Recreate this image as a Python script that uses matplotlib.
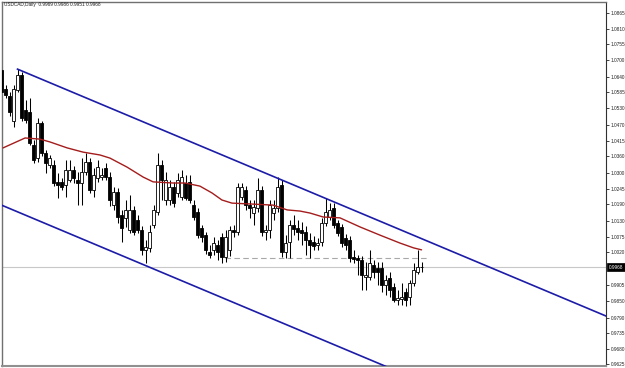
import matplotlib
matplotlib.use("Agg")
import matplotlib.pyplot as plt
import matplotlib.transforms as mtransforms
from matplotlib.patches import Rectangle

plt.rcParams['font.family'] = ['Liberation Sans', 'DejaVu Sans']

# ---- data (USDCAD daily) ----
opens = [1.0664,1.0597,1.0572,1.0484,1.0593,1.0646,1.0523,1.0516,1.0399,1.0353,
 1.0477,1.0371,1.0329,1.0329,1.0269,1.0269,1.0258,1.0276,1.0311,1.0276,
 1.0265,1.0304,1.0339,1.0240,1.0283,1.0286,1.0318,1.0286,1.0187,1.0233,
 1.0152,1.0142,1.0099,1.0170,1.0134,1.0099,1.0029,1.0036,1.0117,1.0163,
 1.0329,1.0205,1.0205,1.0251,1.0230,1.0216,1.0265,1.0269,1.0187,1.0163,
 1.0106,1.0081,1.0021,1.0029,1.0046,1.0074,1.0004,1.0029,1.0099,1.0092,
 1.0216,1.0240,1.0187,1.0159,1.0177,1.0240,1.0092,1.0099,1.0159,1.0177,
 1.0258,1.0021,1.0057,1.0117,1.0106,1.0099,1.0092,1.0064,1.0057,1.0046,
 1.0057,1.0124,1.0145,1.0177,1.0124,1.0110,1.0071,1.0064,1.0004,1.0000,
 0.9993,0.9933,0.9933,0.9976,0.9965,0.9965,0.9905,0.9930,0.9898,0.9852,
 0.9856,0.9880,0.9863,0.9912,0.9951,0.9969]

highs = [1.0678,1.0611,1.0586,1.0611,1.0667,1.0657,1.0558,1.0565,1.0417,1.0494,
 1.0484,1.0382,1.0364,1.0346,1.0300,1.0283,1.0346,1.0346,1.0325,1.0304,
 1.0353,1.0371,1.0353,1.0318,1.0346,1.0318,1.0336,1.0304,1.0251,1.0247,
 1.0170,1.0205,1.0223,1.0184,1.0152,1.0113,1.0064,1.0117,1.0187,1.0371,
 1.0346,1.0304,1.0276,1.0269,1.0300,1.0311,1.0293,1.0293,1.0205,1.0177,
 1.0117,1.0092,1.0046,1.0074,1.0064,1.0089,1.0099,1.0113,1.0117,1.0265,
 1.0265,1.0254,1.0205,1.0205,1.0283,1.0254,1.0117,1.0205,1.0205,1.0286,
 1.0276,1.0081,1.0134,1.0152,1.0134,1.0127,1.0113,1.0089,1.0078,1.0071,
 1.0142,1.0212,1.0194,1.0194,1.0134,1.0120,1.0085,1.0078,1.0029,1.0011,
 1.0007,0.9986,1.0029,0.9993,0.9986,0.9986,0.9940,0.9951,0.9912,0.9887,
 0.9912,0.9894,0.9923,0.9983,1.0029,0.9986]

lows = [1.0576,1.0565,1.0502,1.0463,1.0586,1.0484,1.0477,1.0399,1.0336,1.0339,
 1.0360,1.0300,1.0318,1.0254,1.0212,1.0240,1.0216,1.0269,1.0265,1.0187,
 1.0187,1.0293,1.0230,1.0216,1.0269,1.0276,1.0276,1.0184,1.0170,1.0124,
 1.0057,1.0110,1.0089,1.0081,1.0089,1.0011,0.9983,1.0021,1.0106,1.0152,
 1.0205,1.0187,1.0187,1.0180,1.0216,1.0205,1.0205,1.0194,1.0134,1.0071,
 1.0057,1.0014,1.0000,1.0011,0.9993,0.9983,0.9986,1.0007,1.0074,1.0081,
 1.0205,1.0170,1.0142,1.0117,1.0163,1.0078,1.0064,1.0071,1.0134,1.0163,
 1.0004,1.0000,1.0000,1.0081,1.0064,1.0046,1.0011,1.0000,1.0029,1.0029,
 1.0043,1.0113,1.0134,1.0106,1.0078,1.0039,1.0029,0.9986,0.9983,0.9940,
 0.9887,0.9887,0.9923,0.9930,0.9905,0.9880,0.9870,0.9863,0.9845,0.9834,
 0.9834,0.9831,0.9834,0.9901,0.9944,0.9951]

closes = [1.0586,1.0576,1.0516,1.0597,1.0646,1.0494,1.0487,1.0406,1.0346,1.0477,
 1.0371,1.0336,1.0353,1.0265,1.0258,1.0251,1.0311,1.0311,1.0283,1.0265,
 1.0304,1.0339,1.0240,1.0293,1.0321,1.0293,1.0286,1.0205,1.0233,1.0145,
 1.0106,1.0170,1.0170,1.0092,1.0099,1.0029,1.0039,1.0092,1.0170,1.0329,
 1.0276,1.0276,1.0251,1.0194,1.0276,1.0286,1.0212,1.0205,1.0145,1.0081,
 1.0074,1.0029,1.0011,1.0053,1.0021,1.0004,1.0074,1.0099,1.0092,1.0251,
 1.0251,1.0187,1.0177,1.0180,1.0240,1.0092,1.0099,1.0187,1.0177,1.0251,
 1.0021,1.0053,1.0117,1.0103,1.0092,1.0089,1.0064,1.0046,1.0043,1.0053,
 1.0124,1.0163,1.0170,1.0117,1.0089,1.0053,1.0046,1.0000,0.9997,0.9993,
 0.9940,0.9940,0.9983,0.9951,0.9951,0.9905,0.9923,0.9887,0.9852,0.9859,
 0.9863,0.9852,0.9912,0.9958,0.9968,0.9968]

# moving average : bar index, value
ma_idx = [0.4, 5.9, 9.6, 12.1, 16.4, 20.4, 24.6, 27.1, 31.4, 35.4, 37.9, 42.9,
          45.9, 49.6, 52.6, 55.1, 57.6, 62.1, 67.9, 71.4, 74.6, 77.1, 80.4,
          84.6, 89.6, 94.6, 99.6, 103, 105]
ma_val = [1.0389, 1.0424, 1.0420, 1.0410, 1.0389, 1.0374, 1.0364, 1.0353,
          1.0321, 1.0286, 1.0269, 1.0265, 1.0265, 1.0254, 1.0230, 1.0205,
          1.0194, 1.0191, 1.0187, 1.0170, 1.0166, 1.0159, 1.0145, 1.0142,
          1.0110, 1.0081, 1.0053, 1.0036, 1.0029]

# channel lines: (bar index, price) endpoints
upper_channel = [(4, 1.0667), (151, 0.9796)]
lower_channel = [(0, 1.0187), (96, 0.9618)]

parity_level = 1.0000
parity_span = (55.9, 106.4)
last_price = 0.9968
title = "USDCAD,Daily  0.9969 0.9986 0.9951 0.9968"

price_labels = ["1.0865", "1.0810", "1.0755", "1.0700", "1.0640", "1.0585",
                "1.0530", "1.0470", "1.0415", "1.0360", "1.0300", "1.0245",
                "1.0190", "1.0130", "1.0075", "1.0020", "0.9905", "0.9850",
                "0.9790", "0.9735", "0.9680", "0.9625"]

# ---- figure ----
W, H = 625, 368
fig = plt.figure(figsize=(W / 100, H / 100), dpi=100)
ax = fig.add_axes([2 / W, 2 / H, 604 / W, 364 / H])
ax.set_xlim(0.125, 151.1)
ax.set_ylim(0.9619, 1.0904)

# grey last price line and dashed parity line
ax.axhline(last_price, color='#c8c8c8', lw=0.8, zorder=1)
ax.hlines(parity_level, parity_span[0], parity_span[1], color='#a8a8a8',
          lw=0.8, linestyles=(0, (5, 3)), zorder=1)

# candles
bw = 0.75
for i, (o, h, l, c) in enumerate(zip(opens, highs, lows, closes)):
    ax.vlines(i, l, h, color='black', lw=0.75, zorder=3)
    bottom = min(o, c)
    height = max(abs(c - o), 0.00005)
    fc = 'white' if c >= o else 'black'
    ax.add_patch(Rectangle((i - bw / 2, bottom), bw, height, facecolor=fc,
                           edgecolor='black', lw=0.6, zorder=4))

# moving average
ax.plot(ma_idx, ma_val, color='#a41c1c', lw=1.0, zorder=5,
        solid_capstyle='round', solid_joinstyle='round')

# channel
for line in (upper_channel, lower_channel):
    xs = [p[0] for p in line]
    ys = [p[1] for p in line]
    ax.plot(xs, ys, color='#1c1ca8', lw=1.2, zorder=6)

# axis ticks on right
ax.set_xticks([])
ax.yaxis.tick_right()
ax.set_yticks([float(s) for s in price_labels])
ax.set_yticklabels(price_labels)
ax.tick_params(axis='y', direction='out', length=2.2, width=0.6,
               colors='#222222', labelsize=3.4, pad=1.2)

for side in ('left', 'top'):
    ax.spines[side].set_color('#707070')
    ax.spines[side].set_linewidth(1.0)
ax.spines['right'].set_color('#303030')
ax.spines['right'].set_linewidth(0.8)
ax.spines['bottom'].set_color('#909090')
ax.spines['bottom'].set_linewidth(1.5)

# current price tag
trans = mtransforms.blended_transform_factory(ax.transAxes, ax.transData)
ax.text(1.004, last_price, "0.9968", transform=trans, color='white',
        fontsize=3.4, va='center', ha='left', clip_on=False,
        bbox=dict(boxstyle='square,pad=0.35', fc='black', ec='black', lw=0.5))

# title
ax.text(0.0025, 0.992, title, transform=ax.transAxes, fontsize=3.4,
        color='#222222', va='center', ha='left')

fig.savefig("out.png", dpi=100)
